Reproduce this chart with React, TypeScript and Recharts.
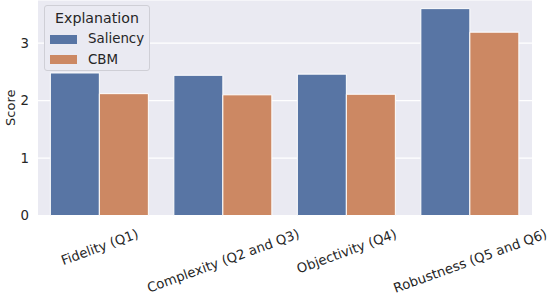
import { Bar, BarChart, CartesianGrid, Legend, XAxis, YAxis } from 'recharts';

const categories = ['Fidelity (Q1)', 'Complexity (Q2 and Q3)', 'Objectivity (Q4)', 'Robustness (Q5 and Q6)'];
const saliency = [2.48, 2.44, 2.46, 3.6];
const cbm = [2.12, 2.1, 2.11, 3.19];
const seriesNames = ['Saliency', 'CBM'];
const seriesColors = ['#5875a4', '#cc8863'];
const yTicks = [0, 1, 2, 3];
const legendTitle = 'Explanation';

const data = categories.map((c, i) => ({ category: c, saliency: saliency[i], cbm: cbm[i] }));

const FONT = 'DejaVu Sans';
const TEXT = '#262626';
const TICK_SIZE = 13.3;

function measure(text: string, size: number) {
  const ctx = document.createElement('canvas').getContext('2d');
  if (!ctx) return text.length * size * 0.6;
  ctx.font = `${size}px "${FONT}"`;
  return ctx.measureText(text).width;
}

// matplotlib-style rotated tick: bbox top sits just under the axis, centred on the tick
function RotatedTick(props: any) {
  const { x, y, payload } = props;
  const a = (20 * Math.PI) / 180;
  const L = measure(payload.value, TICK_SIZE);
  const h = TICK_SIZE * 1.1;
  const H = L * Math.sin(a) + h * Math.cos(a);
  const cy = y + 11 + H / 2;
  return (
    <text
      x={x}
      y={cy}
      textAnchor="middle"
      dominantBaseline="central"
      transform={`rotate(-20, ${x}, ${cy})`}
      fontSize={TICK_SIZE}
      fontFamily={FONT}
      fill={TEXT}
    >
      {payload.value}
    </text>
  );
}

function LegendBox() {
  return (
    <div
      style={{
        position: 'relative',
        width: 106,
        height: 66,
        boxSizing: 'border-box',
        border: '1px solid #cfcfd6',
        borderRadius: 3,
        background: '#eaeaf2',
        fontFamily: FONT,
        color: TEXT,
      }}
    >
      <div style={{ position: 'absolute', left: 0, right: 0, top: 12 - 9, lineHeight: '18px', fontSize: 14.2, textAlign: 'center' }}>
        {legendTitle}
      </div>
      {seriesNames.map((n, i) => (
        <div key={n}>
          <div
            style={{
              position: 'absolute',
              left: 5,
              top: 33 + i * 20.5 - 4.5,
              width: 27,
              height: 9,
              background: seriesColors[i],
            }}
          />
          <div style={{ position: 'absolute', left: 43, top: 33 + i * 20.5 - 9, lineHeight: '18px', fontSize: 13.4 }}>{n}</div>
        </div>
      ))}
    </div>
  );
}

export default function App() {
  return (
    <div style={{ position: 'absolute', left: 0, top: 0, width: 548, height: 297, background: '#fff' }}>
      <BarChart
        width={548}
        height={297}
        data={data}
        margin={{ top: 0, right: 16, bottom: 0, left: 0 }}
        barCategoryGap="10%"
        barGap={0}
      >
        <CartesianGrid vertical={false} stroke="#ffffff" strokeWidth={1.2} fill="#eaeaf2" />
        <XAxis
          dataKey="category"
          axisLine={false}
          tickLine={false}
          tickSize={0}
          tickMargin={0}
          height={81.5}
          interval={0}
          tick={<RotatedTick />}
        />
        <YAxis
          domain={[0, 3.75]}
          ticks={yTicks}
          axisLine={false}
          tickLine={false}
          tickSize={0}
          tickMargin={9}
          width={38}
          tick={{ fontSize: TICK_SIZE, fontFamily: FONT, fill: TEXT }}
          label={{ value: 'Score', angle: -90, position: 'insideLeft', offset: 10, fontSize: 13, fontFamily: FONT, fill: TEXT, style: { textAnchor: 'middle' } }}
        />
        <Legend
          layout="vertical"
          align="center"
          verticalAlign="middle"
          wrapperStyle={{ position: 'absolute', left: 44, top: 5, width: 106, height: 66 }}
          content={() => <LegendBox />}
        />
        <Bar dataKey="saliency" name={seriesNames[0]} fill={seriesColors[0]} stroke="#ffffff" strokeWidth={1} isAnimationActive={false} />
        <Bar dataKey="cbm" name={seriesNames[1]} fill={seriesColors[1]} stroke="#ffffff" strokeWidth={1} isAnimationActive={false} />
      </BarChart>
    </div>
  );
}
